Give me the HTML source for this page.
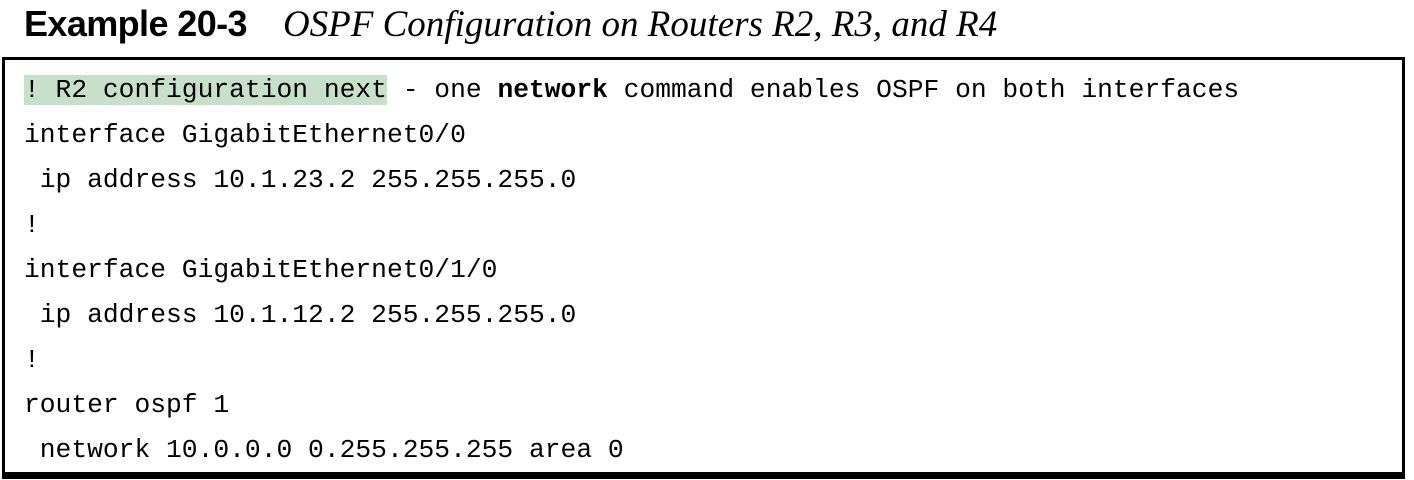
<!DOCTYPE html>
<html><head><style>
body{margin:0;width:1414px;height:480px;background:#fff;position:relative;overflow:hidden}
.t{position:absolute;left:24px;top:3px;white-space:nowrap;line-height:56px}
.t b{font:bold 36px "Liberation Sans",sans-serif;letter-spacing:-0.6px}
.t i{font:italic 37px "Liberation Serif",serif;margin-left:36px}
.box{position:absolute;left:2px;top:57px;width:1397px;height:412px;border:3px solid #000;border-bottom:7px solid #000}
.l{position:absolute;left:24px;font:26.3px "Liberation Mono",monospace;white-space:pre;line-height:30px;color:#000}
.hl{background:#c7e0c9}
</style></head><body>
<div class="t"><b>Example 20-3</b><i>OSPF Configuration on Routers R2, R3, and R4</i></div>
<div class="box"></div>
<div class="l" style="top:75px"><span class="hl">! R2 configuration next</span> - one <b>network</b> command enables OSPF on both interfaces</div>
<div class="l" style="top:120px">interface GigabitEthernet0/0</div>
<div class="l" style="top:165px"> ip address 10.1.23.2 255.255.255.0</div>
<div class="l" style="top:210px">!</div>
<div class="l" style="top:255px">interface GigabitEthernet0/1/0</div>
<div class="l" style="top:300px"> ip address 10.1.12.2 255.255.255.0</div>
<div class="l" style="top:345px">!</div>
<div class="l" style="top:390px">router ospf 1</div>
<div class="l" style="top:435px"> network 10.0.0.0 0.255.255.255 area 0</div>
</body></html>
